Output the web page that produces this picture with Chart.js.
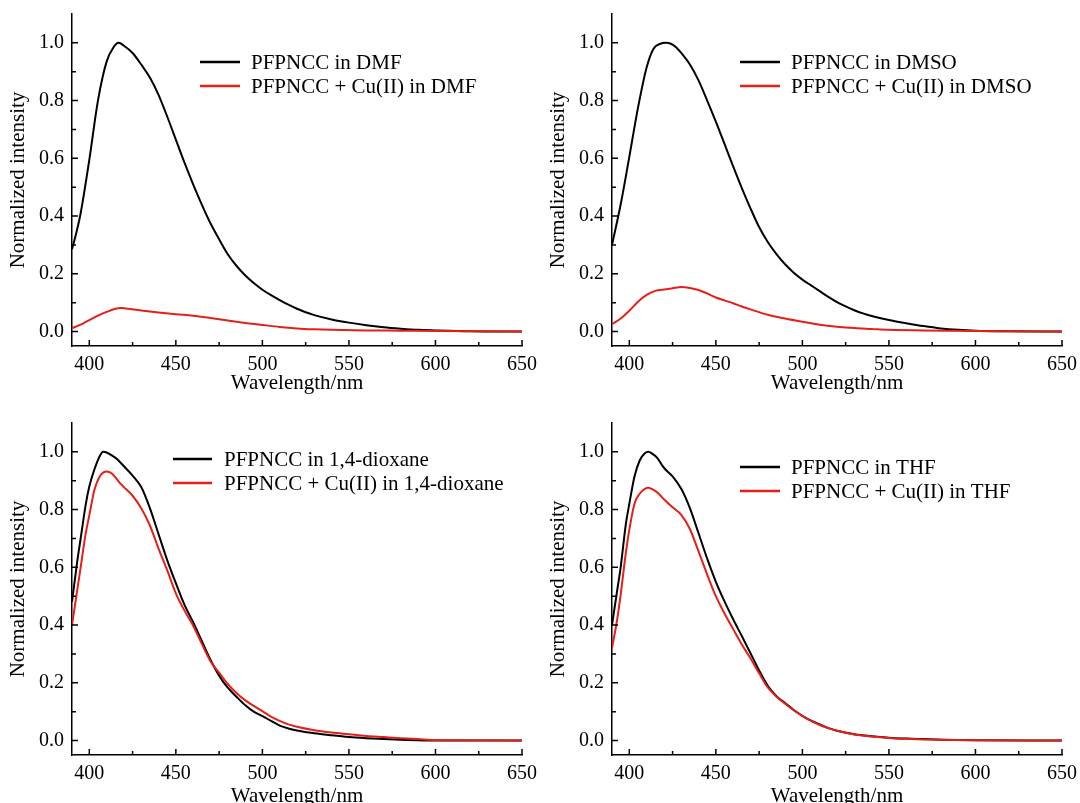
<!DOCTYPE html>
<html>
<head>
<meta charset="utf-8">
<title>PFPNCC emission spectra</title>
<script src="https://cdn.jsdelivr.net/npm/chart.js"></script>
<style>
  body { margin: 0; background: #fff; }
  #wrap { position: relative; width: 1080px; height: 803px; overflow: hidden; background: #fff; }
  canvas { position: absolute; }
</style>
</head>
<body>
<div id="wrap">
  <canvas id="dmf" width="540" height="400" style="left:0;top:0"></canvas>
  <canvas id="dmso" width="540" height="400" style="left:540px;top:0"></canvas>
  <canvas id="dioxane" width="540" height="410" style="left:0;top:400px"></canvas>
  <canvas id="thf" width="540" height="410" style="left:540px;top:400px"></canvas>
</div>
<script>
// axis ticks
const xMajor = [400, 450, 500, 550, 600, 650];
const xMinor = [425, 475, 525, 575, 625];
const yMajor = [0, 0.2, 0.4, 0.6, 0.8, 1.0];
const yMinor = [0.1, 0.3, 0.5, 0.7, 0.9];

// DMF
const dmfWl   = [390,392,395,400,405,410,414,417,420,425,430,435,440,445,450,455,460,465,470,475,480,485,490,495,500,505,510,515,520,525,530,540,550,560,570,580,590,600,620,650];
const dmfFree = [0.285,0.33,0.41,0.595,0.80,0.935,0.985,1.0,0.99,0.965,0.925,0.88,0.82,0.745,0.665,0.585,0.51,0.44,0.375,0.32,0.268,0.228,0.195,0.168,0.145,0.126,0.109,0.093,0.079,0.067,0.057,0.042,0.031,0.022,0.015,0.010,0.006,0.004,0.001,0.0];
const dmfCuWl = [390,395,400,405,410,415,418,420,430,440,450,460,470,480,490,500,510,520,530,540,560,580,600,650];
const dmfCu   = [0.012,0.024,0.040,0.055,0.068,0.079,0.082,0.081,0.073,0.066,0.060,0.055,0.047,0.038,0.030,0.023,0.016,0.011,0.008,0.006,0.004,0.003,0.002,0.0];

// DMSO
const dmsoWl   = [390,395,400,405,410,414,418,421,424,427,430,435,440,445,450,455,460,465,470,475,480,485,490,495,500,505,510,515,520,525,530,535,540,550,560,570,580,590,600,620,650];
const dmsoFree = [0.30,0.44,0.605,0.775,0.915,0.98,0.997,1.0,0.997,0.985,0.965,0.925,0.87,0.80,0.727,0.65,0.572,0.497,0.427,0.362,0.31,0.268,0.233,0.204,0.18,0.16,0.14,0.12,0.102,0.087,0.074,0.063,0.054,0.040,0.029,0.019,0.011,0.006,0.003,0.001,0.0];
const dmsoCuWl = [390,395,400,405,410,415,420,425,430,435,440,445,450,455,460,465,470,480,490,500,510,520,530,540,550,570,600,650];
const dmsoCu   = [0.026,0.045,0.072,0.103,0.127,0.141,0.146,0.150,0.154,0.151,0.144,0.132,0.118,0.108,0.098,0.087,0.077,0.058,0.045,0.034,0.024,0.017,0.012,0.009,0.006,0.004,0.002,0.0];

// 1,4-dioxane
const dioxWl   = [390,393,395,398,400,403,406,408,410,413,416,420,425,430,435,440,445,450,455,460,465,470,475,480,485,490,495,500,505,510,515,520,530,540,550,560,570,580,590,600,650];
const dioxFree = [0.48,0.62,0.70,0.82,0.88,0.94,0.985,1.0,0.998,0.988,0.975,0.95,0.918,0.878,0.805,0.715,0.625,0.545,0.47,0.41,0.345,0.28,0.225,0.183,0.152,0.123,0.10,0.085,0.068,0.052,0.042,0.035,0.025,0.018,0.012,0.008,0.005,0.003,0.001,0.0,0.0];
const dioxCuWl = [390,393,395,398,400,403,406,408,410,413,416,418,420,425,430,435,440,445,450,455,460,465,470,475,480,485,490,495,500,505,510,515,520,530,540,550,560,570,580,590,600,620,650];
const dioxCu   = [0.40,0.52,0.60,0.72,0.78,0.87,0.915,0.928,0.932,0.925,0.905,0.89,0.878,0.848,0.805,0.745,0.665,0.59,0.51,0.45,0.398,0.335,0.275,0.235,0.196,0.165,0.140,0.120,0.102,0.083,0.068,0.056,0.048,0.036,0.028,0.022,0.016,0.012,0.008,0.005,0.002,0.001,0.0];

// THF
const thfWl   = [390,393,395,398,400,403,406,409,411,413,416,420,425,430,435,440,445,450,455,460,465,470,475,480,485,490,495,500,505,510,515,520,530,540,550,560,570,580,600,650];
const thfFree = [0.40,0.52,0.60,0.75,0.82,0.915,0.97,0.995,1.0,0.995,0.98,0.945,0.915,0.872,0.805,0.718,0.63,0.55,0.482,0.42,0.362,0.303,0.243,0.19,0.154,0.13,0.106,0.086,0.069,0.056,0.043,0.034,0.022,0.015,0.010,0.007,0.005,0.003,0.001,0.0];
const thfCuWl = [390,393,395,398,400,403,406,409,411,414,417,420,425,430,435,440,445,450,455,460,465,470,475,480,485,490,495,500,505,510,515,520,530,540,550,560,570,580,600,650];
const thfCu   = [0.32,0.42,0.505,0.65,0.73,0.82,0.855,0.872,0.876,0.868,0.855,0.836,0.808,0.782,0.733,0.655,0.575,0.50,0.44,0.386,0.333,0.285,0.233,0.184,0.152,0.128,0.105,0.085,0.068,0.054,0.043,0.034,0.021,0.014,0.009,0.006,0.004,0.003,0.001,0.0];

const FONT = "'Times New Roman', 'Liberation Serif', serif";
const RED = 'rgb(228, 32, 24)';

const pts = (wl, v) => wl.map((x, i) => ({ x: x, y: v[i] }));

// inward major/minor tick marks on both axes
const tickMarks = {
  id: 'tickMarks',
  afterDraw(chart) {
    const ctx = chart.ctx, a = chart.chartArea;
    const xs = chart.scales.x, ys = chart.scales.y;
    ctx.save();
    ctx.strokeStyle = '#000';
    ctx.lineWidth = 1.5;
    ctx.beginPath();
    xMajor.concat(xMinor).forEach(v => {
      const px = xs.getPixelForValue(v);
      const len = xMajor.includes(v) ? 6 : 4;
      ctx.moveTo(px, a.bottom);
      ctx.lineTo(px, a.bottom - len);
    });
    yMajor.concat(yMinor).forEach(v => {
      const py = ys.getPixelForValue(v);
      const len = yMajor.includes(v) ? 6 : 4;
      ctx.moveTo(a.left, py);
      ctx.lineTo(a.left + len, py);
    });
    ctx.stroke();
    ctx.restore();
  }
};

// legend drawn inside the plot
const inLegend = {
  id: 'inLegend',
  afterDraw(chart, args, o) {
    const ctx = chart.ctx;
    ctx.save();
    ctx.font = '21px ' + FONT;
    ctx.textBaseline = 'middle';
    ctx.textAlign = 'left';
    chart.data.datasets.forEach((ds, i) => {
      const y = o.y + i * 24;
      ctx.strokeStyle = ds.borderColor;
      ctx.lineWidth = 2.5;
      ctx.beginPath();
      ctx.moveTo(o.x1, y);
      ctx.lineTo(o.x2, y);
      ctx.stroke();
      ctx.fillStyle = '#000';
      ctx.fillText(ds.label, o.tx, y + 1);
    });
    ctx.restore();
  }
};

function makePanel(id, free, cu, names, p) {
  new Chart(document.getElementById(id), {
    type: 'line',
    data: {
      datasets: [
        { label: names[0], data: free, borderColor: '#000', borderWidth: 2, order: 1 },
        { label: names[1], data: cu, borderColor: RED, borderWidth: 2, order: 0 }
      ]
    },
    options: {
      responsive: false,
      animation: false,
      events: [],
      devicePixelRatio: 1,
      layout: { autoPadding: false, padding: { left: 0, right: 18, top: p.top, bottom: 0 } },
      elements: {
        point: { radius: 0 },
        line: { fill: false, cubicInterpolationMode: 'monotone' }
      },
      plugins: {
        legend: { display: false },
        tooltip: { enabled: false },
        inLegend: p.legend
      },
      scales: {
        x: {
          type: 'linear',
          min: 390,
          max: 650,
          afterBuildTicks: s => { s.ticks = xMajor.map(v => ({ value: v })); },
          afterFit: s => { s.height = p.xh; s.paddingLeft = 0; s.paddingRight = 0; },
          grid: { display: false, drawTicks: false },
          border: { display: true, color: '#000', width: 1.5 },
          ticks: {
            color: '#000', padding: 7, maxRotation: 0, autoSkip: false,
            font: { family: FONT, size: 20 },
            callback: v => String(v)
          },
          title: {
            display: true, text: 'Wavelength/nm', color: '#000',
            font: { family: FONT, size: 21 },
            padding: { top: 0, bottom: p.titlePad }
          }
        },
        y: {
          type: 'linear',
          min: -0.05,
          max: 1.1,
          afterBuildTicks: s => { s.ticks = yMajor.map(v => ({ value: v })); },
          afterFit: s => { s.width = 72; s.paddingTop = 0; s.paddingBottom = 0; },
          grid: { display: false, drawTicks: false },
          border: { display: true, color: '#000', width: 1.5 },
          ticks: {
            color: '#000', padding: 8,
            font: { family: FONT, size: 20 },
            callback: v => Number(v).toFixed(1)
          },
          title: {
            display: true, text: 'Normalized intensity', color: '#000',
            font: { family: FONT, size: 21 },
            padding: { top: 6, bottom: 0 }
          }
        }
      }
    },
    plugins: [tickMarks, inLegend]
  });
}

makePanel('dmf', pts(dmfWl, dmfFree), pts(dmfCuWl, dmfCu),
  ['PFPNCC in DMF', 'PFPNCC + Cu(II) in DMF'],
  { top: 14, xh: 54, titlePad: 3.5, legend: { x1: 200, x2: 240, tx: 251, y: 62 } });

makePanel('dmso', pts(dmsoWl, dmsoFree), pts(dmsoCuWl, dmsoCu),
  ['PFPNCC in DMSO', 'PFPNCC + Cu(II) in DMSO'],
  { top: 14, xh: 54, titlePad: 3.5, legend: { x1: 200, x2: 240, tx: 251, y: 62 } });

makePanel('dioxane', pts(dioxWl, dioxFree), pts(dioxCuWl, dioxCu),
  ['PFPNCC in 1,4-dioxane', 'PFPNCC + Cu(II) in 1,4-dioxane'],
  { top: 23, xh: 55, titlePad: 1, legend: { x1: 173, x2: 212, tx: 224, y: 59 } });

makePanel('thf', pts(thfWl, thfFree), pts(thfCuWl, thfCu),
  ['PFPNCC in THF', 'PFPNCC + Cu(II) in THF'],
  { top: 23, xh: 55, titlePad: 1, legend: { x1: 200, x2: 240, tx: 251, y: 67 } });
</script>
</body>
</html>
